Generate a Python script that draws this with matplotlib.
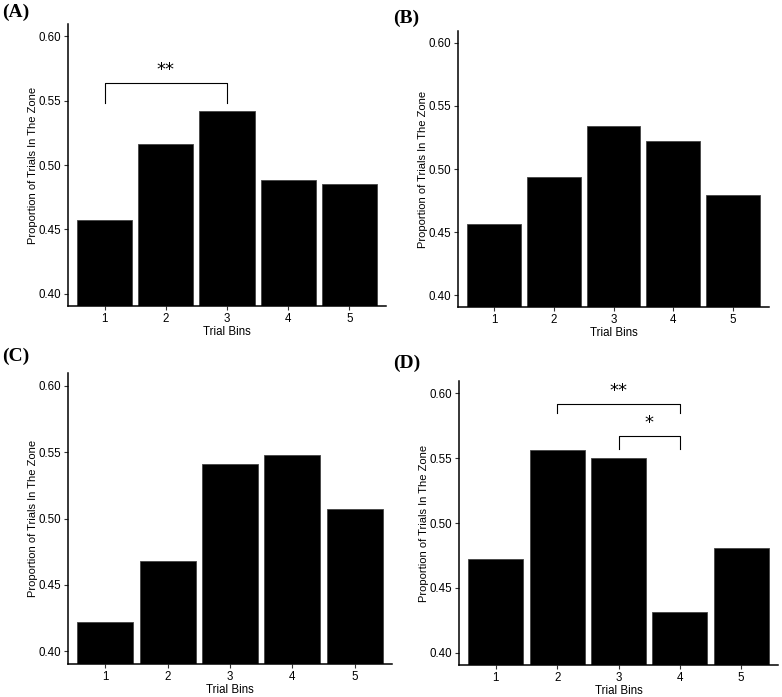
import matplotlib
matplotlib.use("Agg")
import matplotlib.pyplot as plt

bins = [1, 2, 3, 4, 5]
vals_A = [0.457, 0.516, 0.542, 0.488, 0.485]
vals_B = [0.456, 0.494, 0.534, 0.522, 0.479]
vals_C = [0.422, 0.468, 0.541, 0.548, 0.507]
vals_D = [0.472, 0.556, 0.550, 0.431, 0.481]
yticks = [0.40, 0.45, 0.50, 0.55, 0.60]
panel_labels = ["(A)", "(B)", "(C)", "(D)"]

# significance brackets: (x1, x2, bracket_y, leg_bottom_y, text)
brackets_A = [(1, 3, 0.5637, 0.548, "**")]
brackets_D = [(2, 4, 0.5915, 0.585, "**"), (3, 4, 0.567, 0.557, "*")]

W, H = 782, 697
fig = plt.figure(figsize=(W / 100, H / 100), dpi=100)

# axes rectangles in pixels: left, right, top, bottom
rects = [
    (68, 386, 24, 306),
    (458, 769, 31, 307),
    (68, 392, 373, 664),
    (459, 778, 381, 665),
]
label_pos = [(2, 4), (393, 10), (2, 348), (393, 355)]
data = [vals_A, vals_B, vals_C, vals_D]
brs = [brackets_A, [], [], brackets_D]

sans = "Liberation Sans"
for i, (l, r, t, b) in enumerate(rects):
    ax = fig.add_axes([l / W, 1 - b / H, (r - l) / W, (b - t) / H])
    ax.bar(bins, data[i], width=0.9, color="black", edgecolor="#444444", linewidth=0.6, zorder=2)
    ax.set_xlim(0.4, 5.6)
    ax.set_ylim(0.3905, 0.6095)
    ax.set_yticks(yticks)
    ax.set_yticklabels([f"{v:.2f}" for v in yticks], fontfamily=sans, fontsize=8.3)
    ax.set_xticks(bins)
    ax.set_xticklabels([str(v) for v in bins], fontfamily=sans, fontsize=8.3)
    ax.tick_params(length=3, width=0.8, color="#333333", pad=2)
    for s in ["top", "right"]:
        ax.spines[s].set_visible(False)
    for s in ["left", "bottom"]:
        ax.spines[s].set_linewidth(1.1)
    ax.set_xlabel("Trial Bins", fontfamily=sans, fontsize=8.3, labelpad=1)
    ax.set_ylabel("Proportion of Trials In The Zone", fontfamily=sans, fontsize=8, labelpad=0)
    for (x1, x2, yb, yl, txt) in brs[i]:
        ax.plot([x1, x1, x2, x2], [yl, yb, yb, yl], color="black", lw=0.8)
        ax.text((x1 + x2) / 2, yb + 0.003, txt, ha="center", va="bottom",
                fontsize=13, fontfamily="DejaVu Sans")
    fig.text(label_pos[i][0] / W, 1 - label_pos[i][1] / H, panel_labels[i],
             fontfamily="Liberation Serif", fontweight="bold", fontsize=14,
             ha="left", va="top")

fig.savefig("out.png", dpi=100, facecolor="white")
